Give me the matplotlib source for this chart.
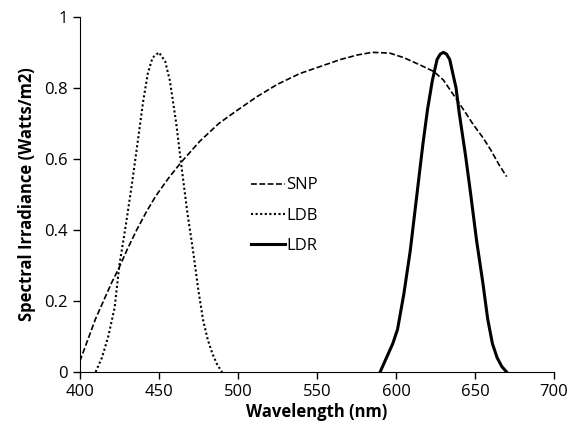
import matplotlib
matplotlib.use("Agg")
import matplotlib.pyplot as plt

plt.rcParams['font.family'] = ['Open Sans', 'DejaVu Sans']

# wavelength (nm) / irradiance values
snp_x = [400, 405, 410, 415, 420, 425, 430, 436, 442, 448, 456, 464, 476, 488, 499, 512, 525, 539, 552, 565, 576, 585, 596, 605, 615, 624, 630, 638, 644, 649, 655, 660, 665, 670]
snp_y = [0.03, 0.09, 0.15, 0.20, 0.25, 0.295, 0.345, 0.40, 0.45, 0.495, 0.545, 0.59, 0.65, 0.70, 0.735, 0.775, 0.81, 0.84, 0.86, 0.88, 0.893, 0.90, 0.898, 0.885, 0.865, 0.846, 0.822, 0.77, 0.73, 0.696, 0.66, 0.625, 0.585, 0.55]

ldb_x = [410, 414, 418, 422, 425, 429, 433, 437, 440, 443, 446, 450, 454, 457, 461, 464, 468, 472, 475, 478, 481, 484, 487, 490]
ldb_y = [0.0, 0.04, 0.10, 0.18, 0.30, 0.41, 0.53, 0.66, 0.76, 0.84, 0.885, 0.90, 0.875, 0.82, 0.70, 0.59, 0.45, 0.33, 0.23, 0.146, 0.09, 0.05, 0.02, 0.0]

ldr_x = [590, 594, 598, 601, 605, 609, 613, 617, 620, 623, 626, 628, 630, 632, 634, 636, 638, 640, 644, 647, 651, 655, 658, 661, 664, 667, 670]
ldr_y = [0.0, 0.04, 0.08, 0.12, 0.22, 0.34, 0.49, 0.64, 0.74, 0.82, 0.88, 0.895, 0.90, 0.895, 0.88, 0.84, 0.80, 0.73, 0.61, 0.51, 0.37, 0.25, 0.15, 0.08, 0.04, 0.015, 0.0]

fig = plt.figure(figsize=(5.7, 4.32), dpi=100)
ax = fig.add_axes([0.140, 0.139, 0.832, 0.822])

ax.plot(snp_x, snp_y, color='black', linestyle=(0, (3.5, 1.5)), linewidth=1.2, label='SNP')
ax.plot(ldb_x, ldb_y, color='black', linestyle=(0, (1, 1.2)), linewidth=1.5, label='LDB')
ax.plot(ldr_x, ldr_y, color='black', linestyle='-', linewidth=2.2, label='LDR')

ax.set_xlim(400, 700)
ax.set_ylim(0, 1)
ax.set_xticks([400, 450, 500, 550, 600, 650, 700])
ax.set_yticks([0, 0.2, 0.4, 0.6, 0.8, 1])
ax.set_yticklabels(['0', '0.2', '0.4', '0.6', '0.8', '1'])
ax.spines['top'].set_visible(False)
ax.spines['right'].set_visible(False)
ax.tick_params(direction='out', length=5, width=1, labelsize=12)
ax.set_xlabel('Wavelength (nm)', fontsize=12, fontweight='bold', labelpad=2)
ax.set_ylabel('Spectral Irradiance (Watts/m2)', fontsize=12, fontweight='bold', labelpad=6)

ax.legend(loc='upper left', bbox_to_anchor=(0.33, 0.59), frameon=False, fontsize=12,
          handlelength=2.0, handletextpad=0.1, labelspacing=0.85)

fig.savefig('out.png', dpi=100)
